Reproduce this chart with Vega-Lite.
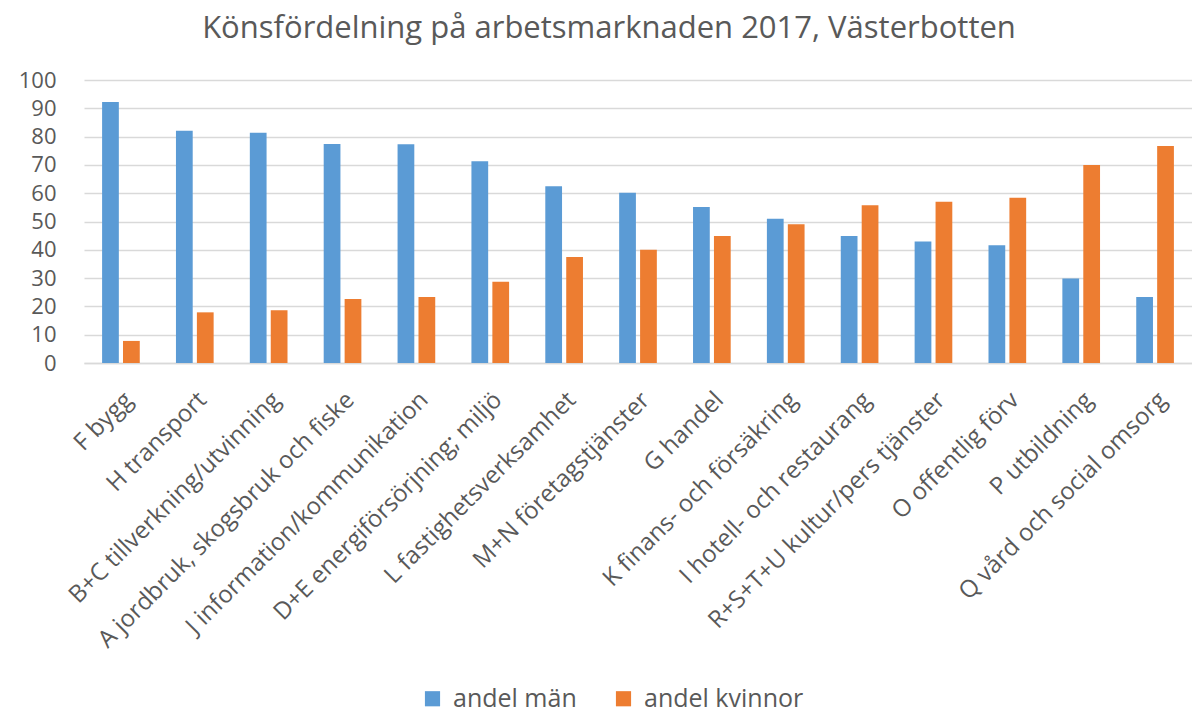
{
  "$schema": "https://vega.github.io/schema/vega-lite/v6.json",
  "autosize": {"type": "none"},
  "padding": {"left": 84, "top": 80, "right": 0, "bottom": 350},
  "width": 1108,
  "height": 283,
  "background": "white",
  "title": {
    "text": "Könsfördelning på arbetsmarknaden 2017, Västerbotten",
    "fontSize": 31,
    "font": "Open Sans",
    "fontWeight": "normal",
    "color": "#595959",
    "anchor": "middle",
    "dx": -29,
    "offset": 24
  },
  "data": {
    "values": [
      {"bransch": "F bygg", "kon": "andel män", "andel": 92.2},
      {"bransch": "F bygg", "kon": "andel kvinnor", "andel": 7.8},
      {"bransch": "H transport", "kon": "andel män", "andel": 82.1},
      {"bransch": "H transport", "kon": "andel kvinnor", "andel": 17.9},
      {"bransch": "B+C tillverkning/utvinning", "kon": "andel män", "andel": 81.4},
      {"bransch": "B+C tillverkning/utvinning", "kon": "andel kvinnor", "andel": 18.6},
      {"bransch": "A jordbruk, skogsbruk och fiske", "kon": "andel män", "andel": 77.4},
      {"bransch": "A jordbruk, skogsbruk och fiske", "kon": "andel kvinnor", "andel": 22.6},
      {"bransch": "J information/kommunikation", "kon": "andel män", "andel": 77.3},
      {"bransch": "J information/kommunikation", "kon": "andel kvinnor", "andel": 23.3},
      {"bransch": "D+E energiförsörjning; miljö", "kon": "andel män", "andel": 71.3},
      {"bransch": "D+E energiförsörjning; miljö", "kon": "andel kvinnor", "andel": 28.7},
      {"bransch": "L fastighetsverksamhet", "kon": "andel män", "andel": 62.5},
      {"bransch": "L fastighetsverksamhet", "kon": "andel kvinnor", "andel": 37.5},
      {"bransch": "M+N företagstjänster", "kon": "andel män", "andel": 60.2},
      {"bransch": "M+N företagstjänster", "kon": "andel kvinnor", "andel": 40.0},
      {"bransch": "G handel", "kon": "andel män", "andel": 55.1},
      {"bransch": "G handel", "kon": "andel kvinnor", "andel": 44.9},
      {"bransch": "K finans- och försäkring", "kon": "andel män", "andel": 51.0},
      {"bransch": "K finans- och försäkring", "kon": "andel kvinnor", "andel": 49.0},
      {"bransch": "I hotell- och restaurang", "kon": "andel män", "andel": 44.9},
      {"bransch": "I hotell- och restaurang", "kon": "andel kvinnor", "andel": 55.7},
      {"bransch": "R+S+T+U kultur/pers tjänster", "kon": "andel män", "andel": 42.9},
      {"bransch": "R+S+T+U kultur/pers tjänster", "kon": "andel kvinnor", "andel": 57.0},
      {"bransch": "O offentlig förv", "kon": "andel män", "andel": 41.6},
      {"bransch": "O offentlig förv", "kon": "andel kvinnor", "andel": 58.4},
      {"bransch": "P utbildning", "kon": "andel män", "andel": 29.9},
      {"bransch": "P utbildning", "kon": "andel kvinnor", "andel": 70.0},
      {"bransch": "Q vård och social omsorg", "kon": "andel män", "andel": 23.3},
      {"bransch": "Q vård och social omsorg", "kon": "andel kvinnor", "andel": 76.7}
    ]
  },
  "mark": {"type": "bar", "stroke": null},
  "encoding": {
    "x": {
      "field": "bransch",
      "type": "nominal",
      "sort": null,
      "title": null,
      "scale": {"paddingInner": 0.49, "paddingOuter": 0.245},
      "axis": {
        "labelAngle": -45,
        "labelAlign": "right",
        "labelBaseline": "middle",
        "labelFontSize": 24,
        "labelFont": "Open Sans",
        "labelColor": "#595959",
        "labelPadding": 33,
        "labelOffset": 8,
        "ticks": false,
        "domainColor": "#d9d9d9",
        "domainWidth": 1.5,
        "grid": false,
        "labelLimit": 500
      }
    },
    "xOffset": {
      "field": "kon",
      "type": "nominal",
      "sort": ["andel män", "andel kvinnor"],
      "scale": {"paddingInner": 0.2}
    },
    "y": {
      "field": "andel",
      "type": "quantitative",
      "title": null,
      "scale": {"domain": [0, 100], "nice": false},
      "axis": {
        "values": [0, 10, 20, 30, 40, 50, 60, 70, 80, 90, 100],
        "labelFontSize": 22,
        "labelFont": "Open Sans",
        "labelColor": "#595959",
        "labelPadding": 28,
        "ticks": false,
        "domain": false,
        "gridColor": "#d9d9d9",
        "gridWidth": 1.5
      }
    },
    "color": {
      "field": "kon",
      "type": "nominal",
      "sort": ["andel män", "andel kvinnor"],
      "scale": {"domain": ["andel män", "andel kvinnor"], "range": ["#5b9bd5", "#ed7d31"]},
      "legend": {
        "title": null,
        "orient": "none",
        "direction": "horizontal",
        "legendX": 336,
        "legendY": 606,
        "symbolType": "square",
        "symbolSize": 230,
        "symbolStrokeWidth": 0,
        "labelFontSize": 25,
        "labelFont": "Open Sans",
        "labelColor": "#595959",
        "columnPadding": 34,
        "labelOffset": 8
      }
    }
  },
  "config": {"view": {"stroke": null}}
}
